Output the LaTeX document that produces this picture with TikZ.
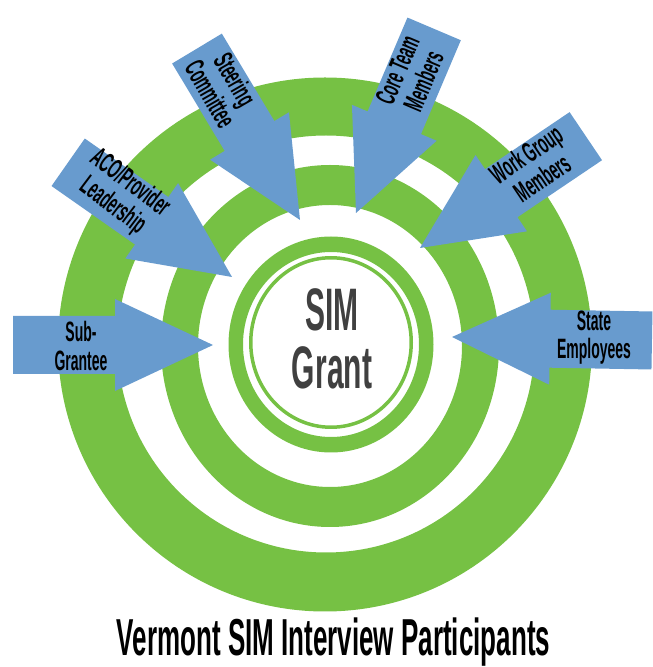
\documentclass[tikz,border=0pt]{standalone}
\usepackage{fontspec}
\newfontfamily\narrowfont[FakeStretch=0.5]{Liberation Sans}
\definecolor{ringgreen}{RGB}{118,193,68}
\definecolor{arrowblue}{RGB}{104,155,206}
\definecolor{simgray}{RGB}{64,64,64}

\begin{document}
\begin{tikzpicture}[x=1pt, y=1pt,
		pics/partarrow/.style={code={
			\fill[arrowblue] (0,0) -- (-98,46) -- (-98,29) -- (-200,29)
				-- (-200,-29) -- (-98,-29) -- (-98,-46) -- cycle;}},
		partlabel/.style={font=\narrowfont\bfseries\fontsize{28}{28.5}\selectfont, align=center}]
		\useasboundingbox (0,0) rectangle (653,667);
		% rings
		\fill[ringgreen, even odd rule] (325,322.5) circle (267pt) (326,323) circle (208.5pt);
		\fill[ringgreen, even odd rule] (330,321) ellipse (169pt and 181pt) ellipse (132pt and 141pt);
		\fill[ringgreen, even odd rule] (331,322.5) ellipse (102.5pt and 108pt) ellipse (88pt and 92.5pt);
		\fill[ringgreen, even odd rule] (331,324.5) ellipse (82pt and 86.5pt) ellipse (78.5pt and 83pt);
		\node (sim) at (332,328)
		[font=\narrowfont\bfseries\fontsize{60}{58}\selectfont, text=simgray, align=center]
		{SIM\\Grant};
		% arrows
		\pic[rotate=0]    at (213,322) {partarrow};
		\pic[rotate=179]  at (452,330) {partarrow};
		\pic[rotate=-35]  at (232,390) {partarrow};
		\pic[rotate=-59]  at (300,447) {partarrow};
		\pic[rotate=-113] at (356,454) {partarrow};
		\pic[rotate=-146] at (420,419) {partarrow};
		\node (sub)      at (81,321)      [partlabel] {Sub-\\Grantee};
		\node (state)    at (594,329.5)   [partlabel] {State\\Employees};
		\node (aco)      at (121,472)     [partlabel, rotate=-37] {ACO/Provider\\Leadership};
		\node (steering) at (223,580.5)   [partlabel, rotate=-60] {Steering\\Committee};
		\node (core)     at (410.5,591.5) [partlabel, rotate=67] {Core Team\\Members};
		\node (work)     at (534,501)     [partlabel, rotate=34] {Work Group\\Members};
		\node (title) at (333.5,11)
		[font=\narrowfont\bfseries\fontsize{52}{52}\selectfont, anchor=base]
		{Vermont SIM Interview Participants};
\end{tikzpicture}
\end{document}
